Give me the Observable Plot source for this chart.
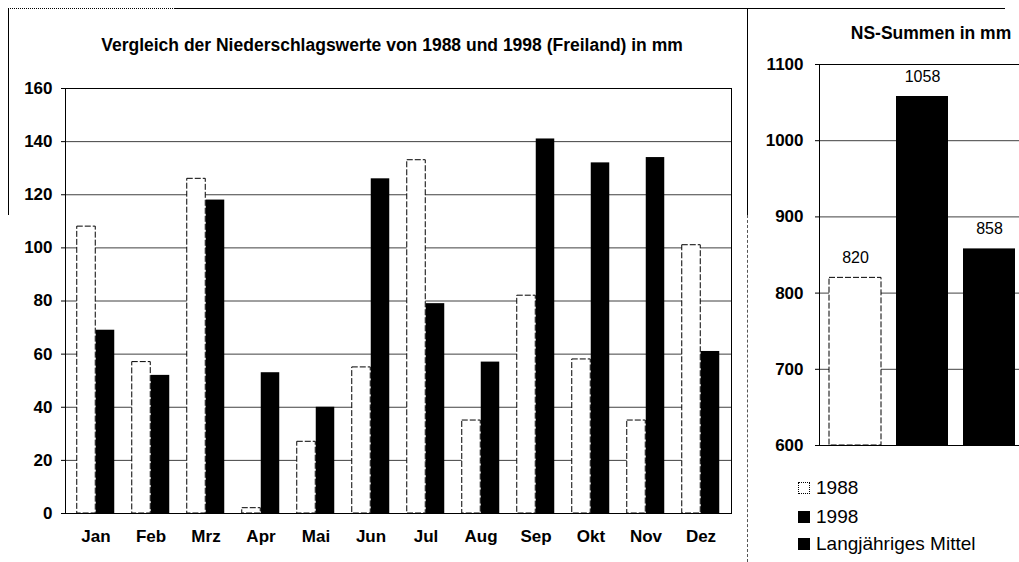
<!DOCTYPE html>
<html><head><meta charset="utf-8">
<script src="https://cdn.jsdelivr.net/npm/d3@7"></script>
<script src="https://cdn.jsdelivr.net/npm/@observablehq/plot@0.6"></script>
<style>
html,body{margin:0;padding:0;background:#fff;overflow:hidden;}
#root{position:relative;width:1019px;height:562px;overflow:hidden;font-family:"Liberation Sans",Arial,sans-serif;color:#000;}
.abs{position:absolute;}
.title{font-weight:bold;white-space:nowrap;transform:translate(-50%,-50%);}
.leg{position:absolute;left:798px;font-size:19px;white-space:nowrap;display:flex;align-items:center;transform:translateY(-50%);}
.sw{width:12px;height:12px;margin-right:6px;box-sizing:border-box;}
</style></head><body><div id="root"></div>
<script>
// ---- data ----
const months = ["Jan","Feb","Mrz","Apr","Mai","Jun","Jul","Aug","Sep","Okt","Nov","Dez"];
const values1988 = [108, 57, 126, 2, 27, 55, 133, 35, 82, 58, 35, 101];
const values1998 = [69, 52, 118, 53, 40, 126, 79, 57, 141, 132, 134, 61];
const yTicksMonthly = [0, 20, 40, 60, 80, 100, 120, 140, 160];
const sumCategories = ["1988", "1998", "Langjähriges Mittel"];
const sumValues = [820, 1058, 858];
const yTicksSum = [600, 700, 800, 900, 1000, 1100];
const titleMonthly = "Vergleich der Niederschlagswerte von 1988 und 1998 (Freiland) in mm";
const titleSum = "NS-Summen in mm";
const legendLabels = ["1988", "1998", "Langjähriges Mittel"];

// ---- tables ----
const rows1988 = months.map((m, i) => ({month: m, value: values1988[i]}));
const rows1998 = months.map((m, i) => ({month: m, value: values1998[i]}));
const sums = sumCategories.map((c, i) => ({cat: c, value: sumValues[i]}));

const root = document.getElementById("root");
const font = '"Liberation Sans", Arial, sans-serif';

// ---- left chart ----
const W1 = 745, H1 = 562, mL = 65, mR = W1 - 731, mT = 88, mB = H1 - 513;
const step = (W1 - mL - mR) / months.length;
const barW = 19;
const left = Plot.plot({
  width: W1, height: H1,
  marginLeft: mL, marginRight: mR, marginTop: mT, marginBottom: mB,
  style: {fontFamily: font, fontSize: "17px", fontWeight: "bold", color: "#000", background: "transparent"},
  x: {domain: months, padding: 0, label: null, tickSize: 0, tickPadding: 16},
  y: {domain: [0, 160], ticks: yTicksMonthly, tickFormat: d => String(d), label: null, tickSize: 4, tickPadding: 9},
  marks: [
    Plot.ruleY(yTicksMonthly.filter(d => d > 0), {stroke: "#000", strokeWidth: 1, strokeOpacity: 0.75}),
    Plot.barY(rows1988, {x: "month", y: "value", fill: "#fff", stroke: "#000", strokeWidth: 1, strokeDasharray: "6,2",
      insetLeft: step / 2 - barW, insetRight: step / 2}),
    Plot.barY(rows1998, {x: "month", y: "value", fill: "#000",
      insetLeft: step / 2, insetRight: step / 2 - barW}),
    Plot.ruleY([0], {stroke: "#000"}),
    Plot.frame({stroke: "#000", strokeWidth: 1})
  ]
});
left.style.position = "absolute"; left.style.left = "0px"; left.style.top = "0px";
root.appendChild(left);

// ---- right chart ----
const X2 = 747, W2 = 282, mL2 = 72, mR2 = 5, mT2 = 64, H2 = 562, mB2 = H2 - 445;
const right = Plot.plot({
  width: W2, height: H2,
  marginLeft: mL2, marginRight: mR2, marginTop: mT2, marginBottom: mB2,
  style: {fontFamily: font, fontSize: "17px", fontWeight: "bold", color: "#000", background: "transparent", overflow: "visible"},
  x: {domain: sumCategories, paddingInner: 0.23, paddingOuter: 0.13, axis: null},
  y: {domain: [600, 1100], ticks: yTicksSum, tickFormat: d => String(d), label: null, tickSize: 4, tickPadding: 12},
  marks: [
    Plot.ruleY(yTicksSum.filter(d => d > 600), {stroke: "#000", strokeWidth: 1, strokeOpacity: 0.75}),
    Plot.barY(sums.filter(d => d.cat === "1988"), {x: "cat", y1: 600, y2: "value", fill: "#fff", stroke: "#000", strokeDasharray: "6,2"}),
    Plot.barY(sums.filter(d => d.cat !== "1988"), {x: "cat", y1: 600, y2: "value", fill: "#000"}),
    Plot.text(sums, {x: "cat", y: "value", text: d => String(d.value), dy: -20, fontSize: 16, fontWeight: "normal", fill: "#000"}),
    Plot.ruleY([600], {stroke: "#000"}),
    Plot.frame({stroke: "#000", strokeWidth: 1})
  ]
});
right.style.position = "absolute"; right.style.left = X2 + "px"; right.style.top = "0px";
root.appendChild(right);

// ---- titles ----
function addDiv(cls, text, x, y, size) {
  const d = document.createElement("div");
  d.className = "abs " + cls;
  d.textContent = text;
  d.style.left = x + "px"; d.style.top = y + "px"; d.style.fontSize = size + "px";
  root.appendChild(d);
  return d;
}
addDiv("title", titleMonthly, 392, 45, 17.5);
addDiv("title", titleSum, 931, 33, 17.5);

// ---- legend ----
const legendY = [488, 517, 544];
legendLabels.forEach((lab, i) => {
  const d = document.createElement("div");
  d.className = "leg";
  d.style.top = legendY[i] + "px";
  const sw = document.createElement("span");
  sw.className = "sw";
  sw.style.background = i === 0 ? "#fff" : "#000";
  if (i === 0) sw.style.border = "1px dotted #000";
  d.appendChild(sw);
  const t = document.createElement("span");
  t.textContent = lab;
  d.appendChild(t);
  root.appendChild(d);
});

// ---- frame decorations ----
function line(x, y, w, h, style) {
  const d = document.createElement("div");
  d.className = "abs";
  Object.assign(d.style, {left: x + "px", top: y + "px", width: w + "px", height: h + "px"}, style);
  root.appendChild(d);
}
line(8, 8, 167, 0, {borderTop: "1px dotted #000"});
line(175, 8, 830, 0, {borderTop: "1px solid #000"});
line(8, 8, 0, 207, {borderLeft: "1px solid #000"});
line(747, 8, 0, 207, {borderLeft: "1px solid #000"});
line(747, 215, 0, 347, {borderLeft: "1px dashed #555"});
</script></body></html>
